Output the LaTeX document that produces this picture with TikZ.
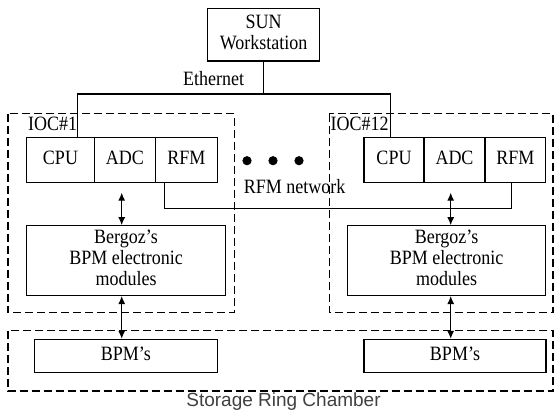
\documentclass[tikz,border=0pt]{standalone}
\usepackage{fontspec}
\usepackage{graphicx}
\setmainfont{Liberation Serif}
\newfontfamily\labelsans{Liberation Sans}
\usetikzlibrary{arrows.meta}
\newcommand{\vs}[1]{\scalebox{1}[1.13]{\begin{tabular}{@{}c@{}}#1\end{tabular}}}
\tikzset{
  box/.style={draw, line width=1.1pt, rectangle, inner sep=0pt, align=center},
  ioc/.style={draw, line width=1.1pt, dash pattern=on 8pt off 4pt},
  wire/.style={line width=1.1pt},
  biarrow/.style={line width=1.1pt, {Latex[length=8pt,width=7pt]}-{Latex[length=8pt,width=7pt]}},
  txt/.style={inner sep=0pt}
}
\begin{document}
\begin{tikzpicture}[x=1pt,y=-1pt, every node/.style={font=\fontsize{18}{18.6}\selectfont}]
\useasboundingbox (0,0) rectangle (554,412);
% dashed groups
\draw[ioc] (8,113.7) rectangle (234.3,312.5);
\draw[ioc] (329.3,113.7) rectangle (553,312.5);
\draw[ioc] (8,330.5) rectangle (553,391);
% boxes
\node[box, minimum width=111.8pt, minimum height=52.7pt] (sun) at (263.6,34.7) {\vs{SUN\\Workstation}};
\node[box, minimum width=67.6pt, minimum height=44.5pt] (cpu1) at (60.5,160) {\vs{CPU}};
\node[box, minimum width=61pt, minimum height=44.5pt] (adc1) at (124.8,160) {\vs{ADC}};
\node[box, minimum width=62pt, minimum height=44.5pt] (rfm1) at (186.3,160) {\vs{RFM}};
\node[box, minimum width=60pt, minimum height=44.5pt] (cpu2) at (394,160) {\vs{CPU}};
\node[box, minimum width=61pt, minimum height=44.5pt] (adc2) at (454.5,160) {\vs{ADC}};
\node[box, minimum width=60.7pt, minimum height=44.5pt] (rfm2) at (515.3,160) {\vs{RFM}};
\node[box, minimum width=198.6pt, minimum height=69.8pt] (berg1) at (126,260.6) {\vs{Bergoz’s\\BPM electronic\\modules}};
\node[box, minimum width=198.6pt, minimum height=69.8pt] (berg2) at (446.6,260.6) {\vs{Bergoz’s\\BPM electronic\\modules}};
\node[box, minimum width=183pt, minimum height=33pt] (bpm1) at (125.8,355.8) {\vs{BPM’s}};
\node[box, minimum width=182pt, minimum height=33pt] (bpm2) at (455,355.8) {\vs{BPM’s}};
% labels
\node[txt] (eth) at (213.7,81.5) {\vs{Ethernet}};
\node[txt, anchor=west] (ioc1l) at (28,126) {\vs{IOC\#1}};
\node[txt, anchor=west, fill=white, inner sep=0.5pt] (ioc2l) at (330,126) {\vs{IOC\#12}};
\node[txt] (rfmnet) at (294.5,189.3) {\vs{RFM network}};
\node[inner sep=0pt, anchor=base, font=\labelsans\fontsize{19}{22}\selectfont, text=black!75] (src) at (283.5,406.7) {Storage Ring Chamber};
% dots
\fill (247,160.7) circle (4.6pt);
\fill (273,160.7) circle (4.6pt);
\fill (299,160.7) circle (4.6pt);
% ethernet bus
\coordinate (busL) at (77.5,94);
\coordinate (busR) at (390.5,94);
\draw[wire] (sun.south) -- (sun.south |- busL);
\draw[wire] (busL |- cpu1.north) -- (busL) -- (busR) -- (busR |- cpu2.north);
% RFM network
\coordinate (rn1) at (164.3,208.7);
\coordinate (rn2) at (511.7,208.7);
\draw[wire] (rn1 |- rfm1.south) -- (rn1) -- (rn2) -- (rn2 |- rfm2.south);
% arrows
\coordinate (a1) at (121.7,192.7);
\coordinate (a2) at (450.7,192.7);
\draw[biarrow] (a1) -- (a1 |- berg1.north);
\draw[biarrow] (a2) -- (a2 |- berg2.north);
\draw[biarrow] (a1 |- berg1.south) -- (a1 |- bpm1.north);
\draw[biarrow] (a2 |- berg2.south) -- (a2 |- bpm2.north);
\end{tikzpicture}
\end{document}
